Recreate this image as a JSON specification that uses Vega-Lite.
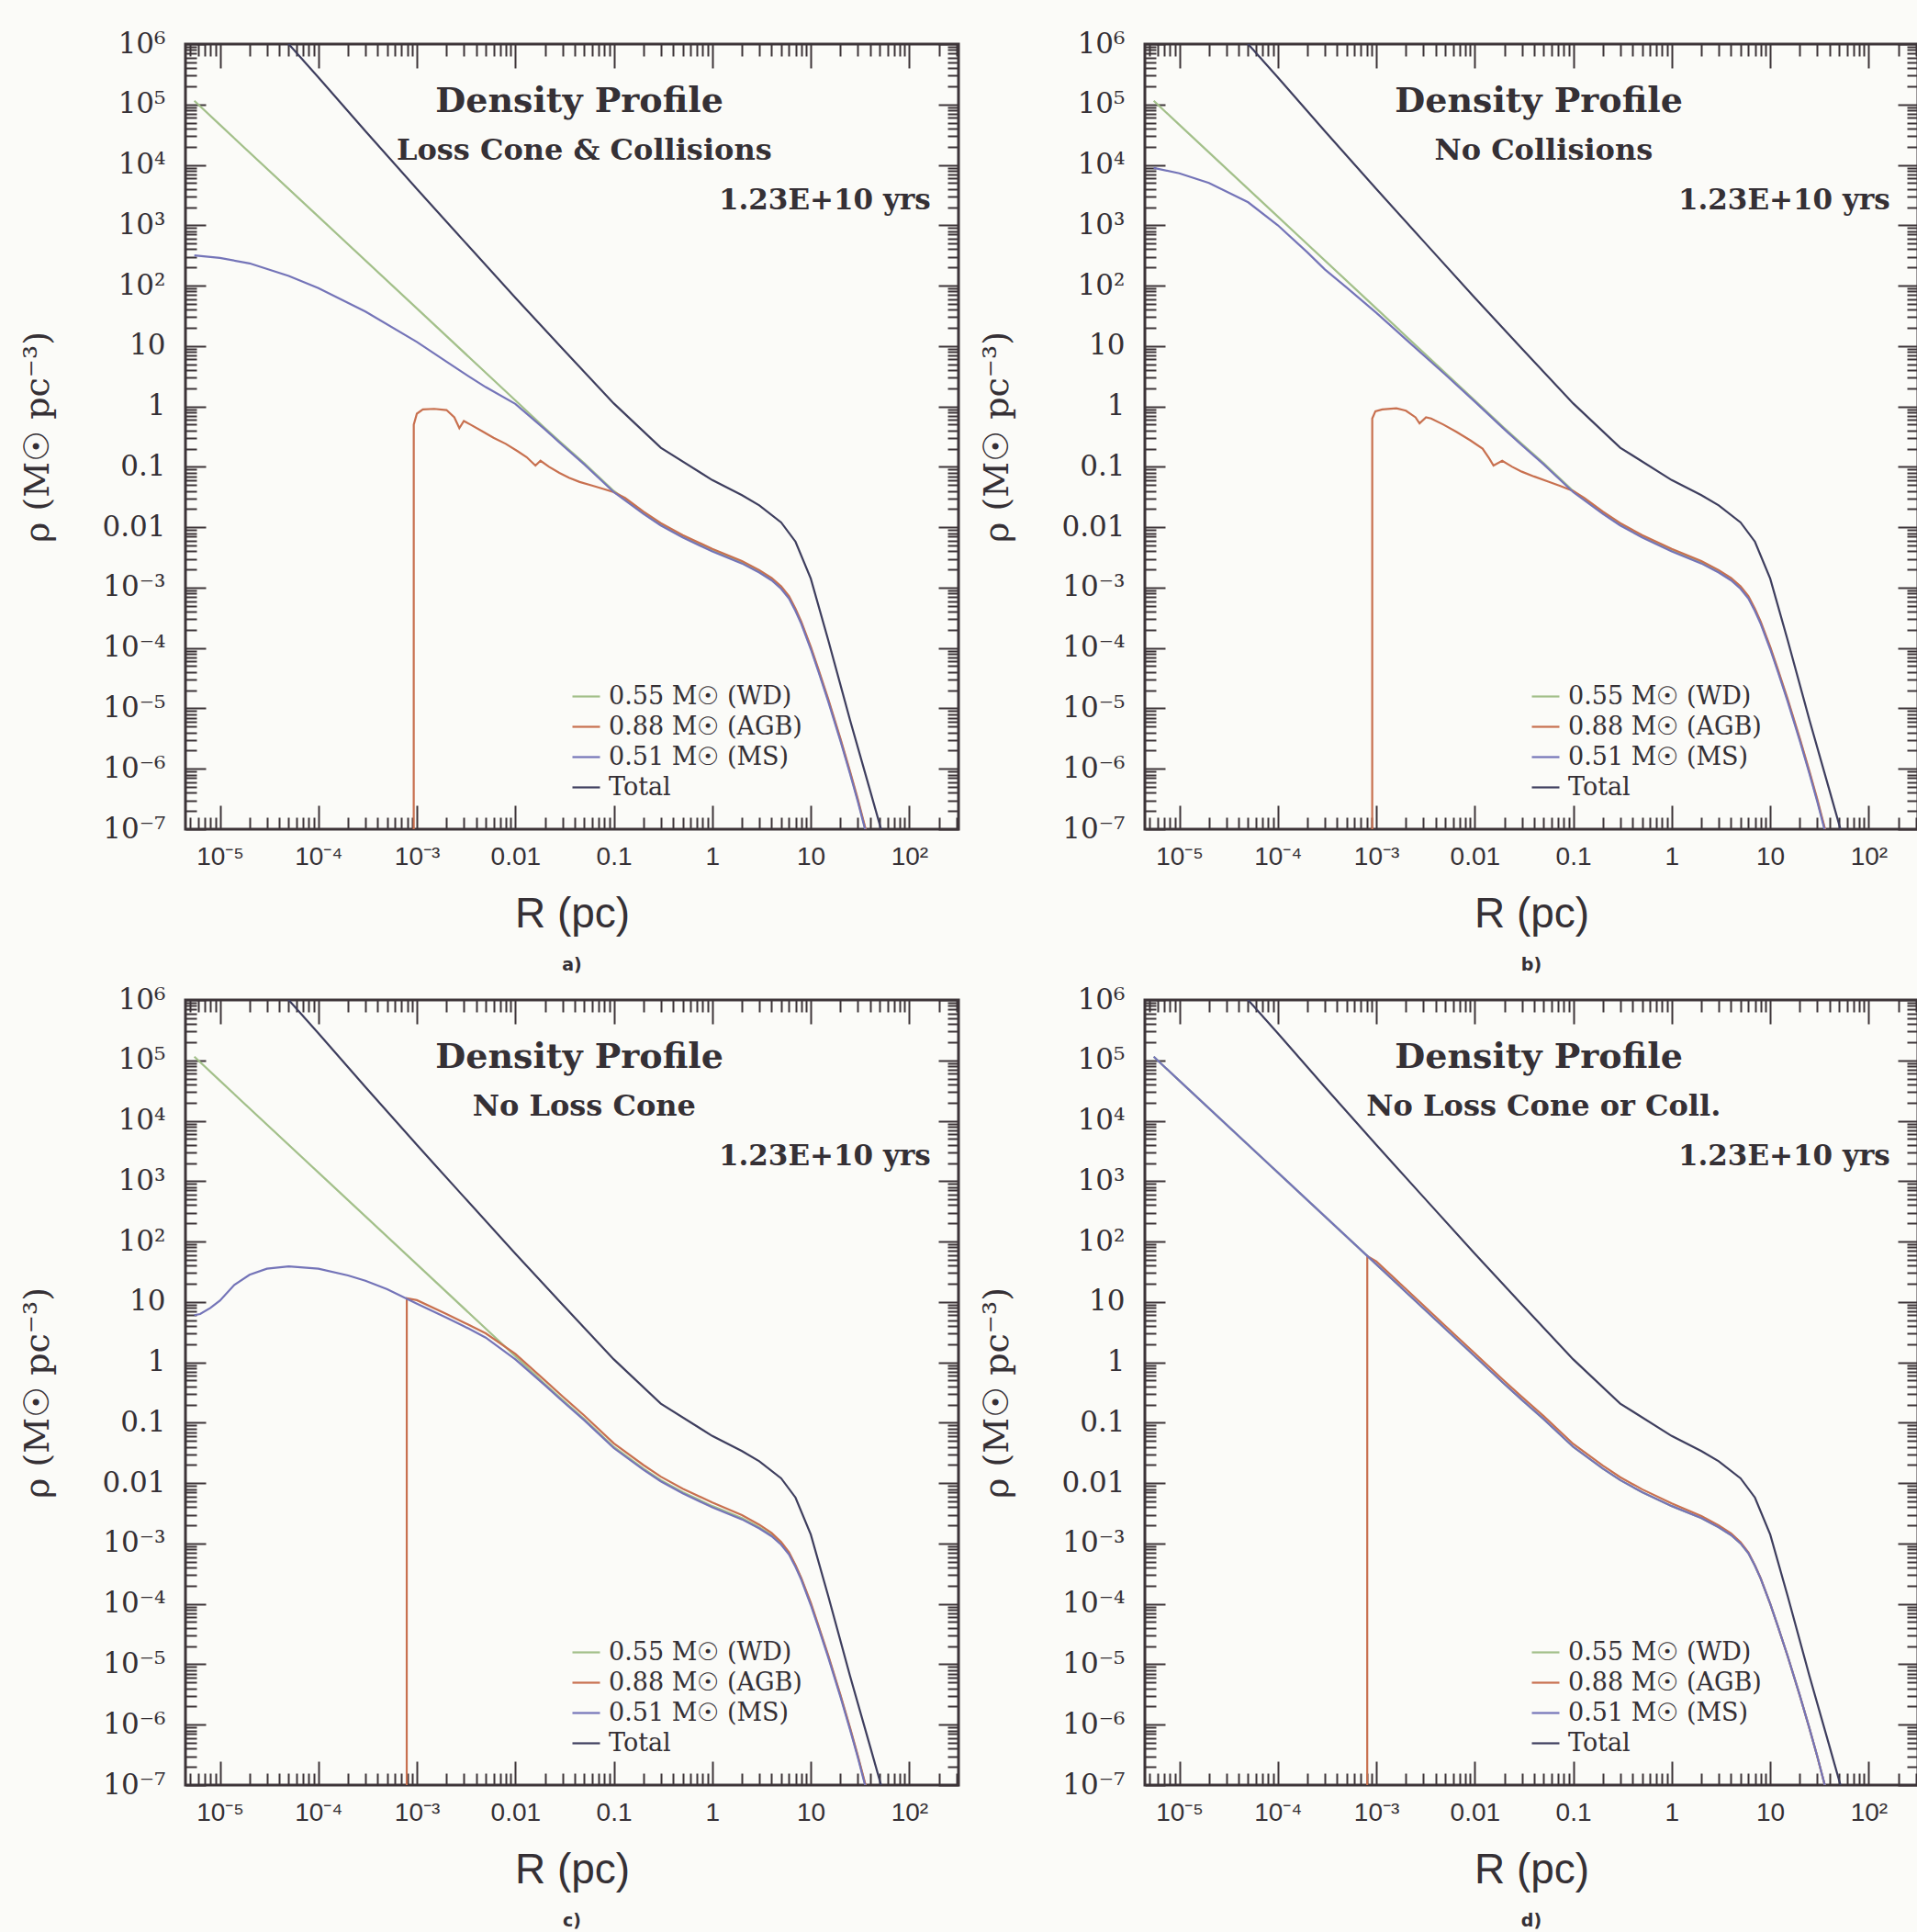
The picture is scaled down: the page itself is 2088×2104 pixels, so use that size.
{
"$schema":"https://vega.github.io/schema/vega-lite/v6.json",
"background":"#fbfbf8",
"padding":{"left":21,"top":30,"right":0,"bottom":0},
"datasets":{
"common":[
{"s":"WD","R":5.5e-6,"rho":1.15e5},{"s":"WD","R":1e-5,"rho":4.61e4},{"s":"WD","R":1e-4,"rho":1390},{"s":"WD","R":1e-3,"rho":41.9},{"s":"WD","R":1e-2,"rho":1.26},{"s":"WD","R":2e-2,"rho":0.437},{"s":"WD","R":3e-2,"rho":0.24},{"s":"WD","R":5e-2,"rho":0.115},{"s":"WD","R":0.1,"rho":0.0398},{"s":"WD","R":0.2,"rho":0.0174},{"s":"WD","R":0.3,"rho":0.0112},{"s":"WD","R":0.5,"rho":7.08e-3},{"s":"WD","R":1,"rho":4.17e-3},{"s":"WD","R":2,"rho":2.63e-3},{"s":"WD","R":3,"rho":1.86e-3},{"s":"WD","R":4,"rho":1.38e-3},{"s":"WD","R":5,"rho":1.0e-3},{"s":"WD","R":6,"rho":6.92e-4},{"s":"WD","R":7,"rho":4.27e-4},{"s":"WD","R":8,"rho":2.63e-4},{"s":"WD","R":10,"rho":1.0e-4},{"s":"WD","R":12,"rho":4.17e-5},{"s":"WD","R":15,"rho":1.38e-5},{"s":"WD","R":20,"rho":3.02e-6},{"s":"WD","R":25,"rho":8.71e-7},{"s":"WD","R":30,"rho":3.02e-7},{"s":"WD","R":40,"rho":5.01e-8},{"s":"WD","R":50,"rho":1.26e-8},
{"s":"Total","R":2e-5,"rho":5.4e6},{"s":"Total","R":3e-5,"rho":2.57e6},{"s":"Total","R":5e-5,"rho":1.0e6},{"s":"Total","R":1e-4,"rho":2.82e5},{"s":"Total","R":3e-4,"rho":3.63e4},{"s":"Total","R":1e-3,"rho":3980},{"s":"Total","R":3e-3,"rho":550},{"s":"Total","R":1e-2,"rho":63.1},{"s":"Total","R":3e-2,"rho":9.12},{"s":"Total","R":0.1,"rho":1.12},{"s":"Total","R":0.3,"rho":0.207},{"s":"Total","R":1,"rho":0.0603},{"s":"Total","R":2,"rho":0.0339},{"s":"Total","R":3,"rho":0.023},{"s":"Total","R":5,"rho":0.012},{"s":"Total","R":7,"rho":5.75e-3},{"s":"Total","R":10,"rho":1.41e-3},{"s":"Total","R":15,"rho":1.37e-4},{"s":"Total","R":25,"rho":6.46e-6},{"s":"Total","R":40,"rho":4.37e-7},{"s":"Total","R":70,"rho":1.74e-8}
],
"a":[
{"s":"AGB","R":9.29e-4,"rho":1e-8},{"s":"AGB","R":9.3e-4,"rho":0.5},{"s":"AGB","R":1.0e-3,"rho":0.759},{"s":"AGB","R":1.15e-3,"rho":0.891},{"s":"AGB","R":1.5e-3,"rho":0.912},{"s":"AGB","R":2.0e-3,"rho":0.871},{"s":"AGB","R":2.4e-3,"rho":0.661},{"s":"AGB","R":2.7e-3,"rho":0.437},{"s":"AGB","R":3.0e-3,"rho":0.575},{"s":"AGB","R":3.5e-3,"rho":0.501},{"s":"AGB","R":4.5e-3,"rho":0.398},{"s":"AGB","R":6e-3,"rho":0.302},{"s":"AGB","R":8e-3,"rho":0.24},{"s":"AGB","R":1.05e-2,"rho":0.182},{"s":"AGB","R":1.3e-2,"rho":0.145},{"s":"AGB","R":1.6e-2,"rho":0.105},{"s":"AGB","R":1.8e-2,"rho":0.126},{"s":"AGB","R":2.2e-2,"rho":0.1},{"s":"AGB","R":2.8e-2,"rho":0.0794},{"s":"AGB","R":3.5e-2,"rho":0.0661},{"s":"AGB","R":4.5e-2,"rho":0.0562},{"s":"AGB","R":6e-2,"rho":0.049},{"s":"AGB","R":8e-2,"rho":0.0427},{"s":"AGB","R":0.1,"rho":0.038},{"s":"AGB","R":0.13,"rho":0.0305},{"s":"AGB","R":0.2,"rho":0.0182},{"s":"AGB","R":0.3,"rho":0.0117},{"s":"AGB","R":0.5,"rho":7.41e-3},{"s":"AGB","R":1,"rho":4.37e-3},{"s":"AGB","R":2,"rho":2.75e-3},{"s":"AGB","R":3,"rho":1.95e-3},{"s":"AGB","R":4,"rho":1.45e-3},{"s":"AGB","R":5,"rho":1.05e-3},{"s":"AGB","R":6,"rho":7.24e-4},{"s":"AGB","R":7,"rho":4.47e-4},{"s":"AGB","R":8,"rho":2.75e-4},{"s":"AGB","R":10,"rho":1.05e-4},{"s":"AGB","R":12,"rho":4.37e-5},{"s":"AGB","R":15,"rho":1.45e-5},{"s":"AGB","R":20,"rho":3.16e-6},{"s":"AGB","R":25,"rho":9.12e-7},{"s":"AGB","R":30,"rho":3.16e-7},{"s":"AGB","R":40,"rho":5.25e-8},{"s":"AGB","R":50,"rho":1.32e-8},
{"s":"MS","R":5.5e-6,"rho":316},{"s":"MS","R":1e-5,"rho":288},{"s":"MS","R":2e-5,"rho":234},{"s":"MS","R":5e-5,"rho":145},{"s":"MS","R":1e-4,"rho":91.2},{"s":"MS","R":3e-4,"rho":37.2},{"s":"MS","R":1e-3,"rho":11.7},{"s":"MS","R":2e-3,"rho":5.5},{"s":"MS","R":3e-3,"rho":3.55},{"s":"MS","R":5e-3,"rho":2.09},{"s":"MS","R":1e-2,"rho":1.1},{"s":"MS","R":2e-2,"rho":0.417},{"s":"MS","R":3e-2,"rho":0.229},{"s":"MS","R":5e-2,"rho":0.11},{"s":"MS","R":0.1,"rho":0.038},{"s":"MS","R":0.2,"rho":0.0166},{"s":"MS","R":0.3,"rho":0.0107},{"s":"MS","R":0.5,"rho":6.76e-3},{"s":"MS","R":1,"rho":3.98e-3},{"s":"MS","R":2,"rho":2.51e-3},{"s":"MS","R":3,"rho":1.78e-3},{"s":"MS","R":4,"rho":1.32e-3},{"s":"MS","R":5,"rho":9.55e-4},{"s":"MS","R":6,"rho":6.61e-4},{"s":"MS","R":7,"rho":4.07e-4},{"s":"MS","R":8,"rho":2.51e-4},{"s":"MS","R":10,"rho":9.55e-5},{"s":"MS","R":12,"rho":3.98e-5},{"s":"MS","R":15,"rho":1.32e-5},{"s":"MS","R":20,"rho":2.88e-6},{"s":"MS","R":25,"rho":8.32e-7},{"s":"MS","R":30,"rho":2.88e-7},{"s":"MS","R":40,"rho":4.79e-8},{"s":"MS","R":50,"rho":1.2e-8}
],
"b":[
{"s":"AGB","R":9.09e-4,"rho":1e-8},{"s":"AGB","R":9.1e-4,"rho":0.631},{"s":"AGB","R":9.8e-4,"rho":0.832},{"s":"AGB","R":1.15e-3,"rho":0.891},{"s":"AGB","R":1.6e-3,"rho":0.933},{"s":"AGB","R":2.0e-3,"rho":0.851},{"s":"AGB","R":2.5e-3,"rho":0.661},{"s":"AGB","R":2.75e-3,"rho":0.525},{"s":"AGB","R":3.2e-3,"rho":0.661},{"s":"AGB","R":3.6e-3,"rho":0.631},{"s":"AGB","R":4.8e-3,"rho":0.501},{"s":"AGB","R":6.5e-3,"rho":0.38},{"s":"AGB","R":9e-3,"rho":0.275},{"s":"AGB","R":1.2e-2,"rho":0.2},{"s":"AGB","R":1.4e-2,"rho":0.138},{"s":"AGB","R":1.55e-2,"rho":0.105},{"s":"AGB","R":1.9e-2,"rho":0.126},{"s":"AGB","R":2.4e-2,"rho":0.1},{"s":"AGB","R":3e-2,"rho":0.0832},{"s":"AGB","R":4e-2,"rho":0.0692},{"s":"AGB","R":5.5e-2,"rho":0.0575},{"s":"AGB","R":7.5e-2,"rho":0.0479},{"s":"AGB","R":0.1,"rho":0.0398},{"s":"AGB","R":0.13,"rho":0.0305},{"s":"AGB","R":0.2,"rho":0.0182},{"s":"AGB","R":0.3,"rho":0.0117},{"s":"AGB","R":0.5,"rho":7.41e-3},{"s":"AGB","R":1,"rho":4.37e-3},{"s":"AGB","R":2,"rho":2.75e-3},{"s":"AGB","R":3,"rho":1.95e-3},{"s":"AGB","R":4,"rho":1.45e-3},{"s":"AGB","R":5,"rho":1.05e-3},{"s":"AGB","R":6,"rho":7.24e-4},{"s":"AGB","R":7,"rho":4.47e-4},{"s":"AGB","R":8,"rho":2.75e-4},{"s":"AGB","R":10,"rho":1.05e-4},{"s":"AGB","R":12,"rho":4.37e-5},{"s":"AGB","R":15,"rho":1.45e-5},{"s":"AGB","R":20,"rho":3.16e-6},{"s":"AGB","R":25,"rho":9.12e-7},{"s":"AGB","R":30,"rho":3.16e-7},{"s":"AGB","R":40,"rho":5.25e-8},{"s":"AGB","R":50,"rho":1.32e-8},
{"s":"MS","R":5.5e-6,"rho":8910},{"s":"MS","R":1e-5,"rho":7240},{"s":"MS","R":2e-5,"rho":5010},{"s":"MS","R":5e-5,"rho":2400},{"s":"MS","R":1e-4,"rho":1000},{"s":"MS","R":2e-4,"rho":355},{"s":"MS","R":3e-4,"rho":186},{"s":"MS","R":5e-4,"rho":93.3},{"s":"MS","R":1e-3,"rho":35.5},{"s":"MS","R":2e-3,"rho":12.9},{"s":"MS","R":5e-3,"rho":3.39},{"s":"MS","R":1e-2,"rho":1.2},{"s":"MS","R":2e-2,"rho":0.417},{"s":"MS","R":3e-2,"rho":0.229},{"s":"MS","R":5e-2,"rho":0.11},{"s":"MS","R":0.1,"rho":0.038},{"s":"MS","R":0.2,"rho":0.0166},{"s":"MS","R":0.3,"rho":0.0107},{"s":"MS","R":0.5,"rho":6.76e-3},{"s":"MS","R":1,"rho":3.98e-3},{"s":"MS","R":2,"rho":2.51e-3},{"s":"MS","R":3,"rho":1.78e-3},{"s":"MS","R":4,"rho":1.32e-3},{"s":"MS","R":5,"rho":9.55e-4},{"s":"MS","R":6,"rho":6.61e-4},{"s":"MS","R":7,"rho":4.07e-4},{"s":"MS","R":8,"rho":2.51e-4},{"s":"MS","R":10,"rho":9.55e-5},{"s":"MS","R":12,"rho":3.98e-5},{"s":"MS","R":15,"rho":1.32e-5},{"s":"MS","R":20,"rho":2.88e-6},{"s":"MS","R":25,"rho":8.32e-7},{"s":"MS","R":30,"rho":2.88e-7},{"s":"MS","R":40,"rho":4.79e-8},{"s":"MS","R":50,"rho":1.2e-8}
],
"c":[
{"s":"AGB","R":7.89e-4,"rho":1e-8},{"s":"AGB","R":7.9e-4,"rho":11.5},{"s":"AGB","R":1e-3,"rho":10.7},{"s":"AGB","R":2e-3,"rho":6.31},{"s":"AGB","R":3e-3,"rho":4.57},{"s":"AGB","R":5e-3,"rho":3.02},{"s":"AGB","R":1e-2,"rho":1.38},{"s":"AGB","R":2e-2,"rho":0.5},{"s":"AGB","R":3e-2,"rho":0.275},{"s":"AGB","R":5e-2,"rho":0.132},{"s":"AGB","R":0.1,"rho":0.0456},{"s":"AGB","R":0.2,"rho":0.0199},{"s":"AGB","R":0.3,"rho":0.0128},{"s":"AGB","R":0.5,"rho":8.1e-3},{"s":"AGB","R":1,"rho":4.78e-3},{"s":"AGB","R":2,"rho":2.95e-3},{"s":"AGB","R":3,"rho":2.05e-3},{"s":"AGB","R":4,"rho":1.5e-3},{"s":"AGB","R":5,"rho":1.06e-3},{"s":"AGB","R":6,"rho":7.2e-4},{"s":"AGB","R":7,"rho":4.4e-4},{"s":"AGB","R":8,"rho":2.7e-4},{"s":"AGB","R":10,"rho":1.05e-4},{"s":"AGB","R":12,"rho":4.3e-5},{"s":"AGB","R":15,"rho":1.42e-5},{"s":"AGB","R":20,"rho":3.1e-6},{"s":"AGB","R":25,"rho":9e-7},{"s":"AGB","R":30,"rho":3.1e-7},{"s":"AGB","R":40,"rho":5.2e-8},{"s":"AGB","R":50,"rho":1.3e-8},
{"s":"MS","R":5.5e-6,"rho":6.03},{"s":"MS","R":6.3e-6,"rho":6.31},{"s":"MS","R":8e-6,"rho":7.94},{"s":"MS","R":1e-5,"rho":10.5},{"s":"MS","R":1.4e-5,"rho":19.1},{"s":"MS","R":2e-5,"rho":28.2},{"s":"MS","R":3e-5,"rho":35.5},{"s":"MS","R":5e-5,"rho":38.9},{"s":"MS","R":1e-4,"rho":35.5},{"s":"MS","R":2e-4,"rho":27.5},{"s":"MS","R":3e-4,"rho":22.4},{"s":"MS","R":5e-4,"rho":16.2},{"s":"MS","R":1e-3,"rho":9.33},{"s":"MS","R":2e-3,"rho":5.5},{"s":"MS","R":3e-3,"rho":3.98},{"s":"MS","R":5e-3,"rho":2.57},{"s":"MS","R":1e-2,"rho":1.12},{"s":"MS","R":2e-2,"rho":0.417},{"s":"MS","R":3e-2,"rho":0.229},{"s":"MS","R":5e-2,"rho":0.11},{"s":"MS","R":0.1,"rho":0.038},{"s":"MS","R":0.2,"rho":0.0166},{"s":"MS","R":0.3,"rho":0.0107},{"s":"MS","R":0.5,"rho":6.76e-3},{"s":"MS","R":1,"rho":3.98e-3},{"s":"MS","R":2,"rho":2.51e-3},{"s":"MS","R":3,"rho":1.78e-3},{"s":"MS","R":4,"rho":1.32e-3},{"s":"MS","R":5,"rho":9.55e-4},{"s":"MS","R":6,"rho":6.61e-4},{"s":"MS","R":7,"rho":4.07e-4},{"s":"MS","R":8,"rho":2.51e-4},{"s":"MS","R":10,"rho":9.55e-5},{"s":"MS","R":12,"rho":3.98e-5},{"s":"MS","R":15,"rho":1.32e-5},{"s":"MS","R":20,"rho":2.88e-6},{"s":"MS","R":25,"rho":8.32e-7},{"s":"MS","R":30,"rho":2.88e-7},{"s":"MS","R":40,"rho":4.79e-8},{"s":"MS","R":50,"rho":1.2e-8}
],
"d":[
{"s":"AGB","R":8.09e-4,"rho":1e-8},{"s":"AGB","R":8.1e-4,"rho":57.3},{"s":"AGB","R":1e-3,"rho":47},{"s":"AGB","R":2e-3,"rho":16.4},{"s":"AGB","R":5e-3,"rho":4.04},{"s":"AGB","R":1e-2,"rho":1.41},{"s":"AGB","R":2e-2,"rho":0.49},{"s":"AGB","R":3e-2,"rho":0.269},{"s":"AGB","R":5e-2,"rho":0.129},{"s":"AGB","R":0.1,"rho":0.0446},{"s":"AGB","R":0.2,"rho":0.0195},{"s":"AGB","R":0.3,"rho":0.0125},{"s":"AGB","R":0.5,"rho":7.9e-3},{"s":"AGB","R":1,"rho":4.6e-3},{"s":"AGB","R":2,"rho":2.85e-3},{"s":"AGB","R":3,"rho":2.0e-3},{"s":"AGB","R":4,"rho":1.47e-3},{"s":"AGB","R":5,"rho":1.05e-3},{"s":"AGB","R":6,"rho":7.1e-4},{"s":"AGB","R":7,"rho":4.35e-4},{"s":"AGB","R":8,"rho":2.66e-4},{"s":"AGB","R":10,"rho":1.0e-4},{"s":"AGB","R":12,"rho":4.17e-5},{"s":"AGB","R":15,"rho":1.38e-5},{"s":"AGB","R":20,"rho":3.02e-6},{"s":"AGB","R":25,"rho":8.71e-7},{"s":"AGB","R":30,"rho":3.02e-7},{"s":"AGB","R":40,"rho":5.01e-8},{"s":"AGB","R":50,"rho":1.26e-8},
{"s":"MS","R":5.5e-6,"rho":1.15e5},{"s":"MS","R":1e-5,"rho":4.61e4},{"s":"MS","R":1e-4,"rho":1390},{"s":"MS","R":1e-3,"rho":41.9},{"s":"MS","R":1e-2,"rho":1.26},{"s":"MS","R":2e-2,"rho":0.437},{"s":"MS","R":3e-2,"rho":0.24},{"s":"MS","R":5e-2,"rho":0.115},{"s":"MS","R":0.1,"rho":0.0398},{"s":"MS","R":0.2,"rho":0.0174},{"s":"MS","R":0.3,"rho":0.0112},{"s":"MS","R":0.5,"rho":7.08e-3},{"s":"MS","R":1,"rho":4.17e-3},{"s":"MS","R":2,"rho":2.63e-3},{"s":"MS","R":3,"rho":1.86e-3},{"s":"MS","R":4,"rho":1.38e-3},{"s":"MS","R":5,"rho":1.0e-3},{"s":"MS","R":6,"rho":6.92e-4},{"s":"MS","R":7,"rho":4.27e-4},{"s":"MS","R":8,"rho":2.63e-4},{"s":"MS","R":10,"rho":1.0e-4},{"s":"MS","R":12,"rho":4.17e-5},{"s":"MS","R":15,"rho":1.38e-5},{"s":"MS","R":20,"rho":3.02e-6},{"s":"MS","R":25,"rho":8.71e-7},{"s":"MS","R":30,"rho":3.02e-7},{"s":"MS","R":40,"rho":5.01e-8},{"s":"MS","R":50,"rho":1.26e-8}
]
},
"columns":2,
"spacing":{"row":8,"column":19},
"resolve":{"scale":{"x":"independent","y":"independent","color":"independent"},"legend":{"color":"independent"}},
"concat":[
{"width":842,"height":855,"title":{"text":"a)"},
"layer":[
{"data":{"name":"common"},"mark":{"type":"line","clip":true,"strokeWidth":2.2},"encoding":{"x":{"field":"R","type":"quantitative","scale":{"type":"log","domain":[4.47e-6,316],"nice":false},"axis":{"orient":"bottom","values":[1e-5,1e-4,0.001,0.01,0.1,1,10,100],"ticks":false,"labelExpr":"['10⁻⁵','10⁻⁴','10⁻³','0.01','0.1','1','10','10²'][round(log(datum.value)/LN10)+5]","title":"R (pc)","labelFont":"Liberation Sans","labelFontSize":28,"labelPadding":16,"titleFont":"Liberation Sans","titleFontSize":46,"titlePadding":26}},"y":{"field":"rho","type":"quantitative","scale":{"type":"log","domain":[1e-7,1e6],"nice":false},"axis":{"orient":"left","values":[1e-7,1e-6,1e-5,1e-4,0.001,0.01,0.1,1,10,100,1000,10000,100000,1000000],"ticks":false,"labelExpr":"['10⁻⁷','10⁻⁶','10⁻⁵','10⁻⁴','10⁻³','0.01','0.1','1','10','10²','10³','10⁴','10⁵','10⁶'][round(log(datum.value)/LN10)+7]","title":"ρ (M☉ pc⁻³)","labelPadding":22,"titlePadding":50}},"color":{"field":"s","type":"nominal","scale":{"domain":["WD","AGB","MS","Total"],"range":["#a3c08a","#c8704f","#7474b8","#3e3e5e"]},"legend":{"title":null,"orient":"none","legendX":420,"legendY":694,"labelExpr":"datum.label == 'WD' ? '0.55 M☉ (WD)' : datum.label == 'AGB' ? '0.88 M☉ (AGB)' : datum.label == 'MS' ? '0.51 M☉ (MS)' : 'Total'"}}}},
{"data":{"name":"a"},"mark":{"type":"line","clip":true,"strokeWidth":2.2},"encoding":{"x":{"field":"R","type":"quantitative","scale":{"type":"log","domain":[4.47e-6,316],"nice":false},"axis":null},"y":{"field":"rho","type":"quantitative","scale":{"type":"log","domain":[1e-7,1e6],"nice":false},"axis":null},"color":{"field":"s","type":"nominal","scale":{"domain":["WD","AGB","MS","Total"],"range":["#a3c08a","#c8704f","#7474b8","#3e3e5e"]},"legend":{"title":null,"orient":"none","legendX":420,"legendY":694,"labelExpr":"datum.label == 'WD' ? '0.55 M☉ (WD)' : datum.label == 'AGB' ? '0.88 M☉ (AGB)' : datum.label == 'MS' ? '0.51 M☉ (MS)' : 'Total'"}}}},
{"data":{"name":"common"},"mark":{"type":"point","opacity":0,"clip":true},"encoding":{"x":{"field":"R","type":"quantitative","scale":{"type":"log","domain":[4.47e-6,316],"nice":false},"axis":{"orient":"bottom","values":[1e-5,1e-4,0.001,0.01,0.1,1,10,100],"labels":false,"tickSize":-26,"title":null}},"y":{"field":"rho","type":"quantitative","scale":{"type":"log","domain":[1e-7,1e6],"nice":false},"axis":{"orient":"left","values":[1e-7,1e-6,1e-5,1e-4,0.001,0.01,0.1,1,10,100,1000,10000,100000,1000000],"labels":false,"tickSize":-22,"title":null}}}},
{"data":{"name":"common"},"mark":{"type":"point","opacity":0,"clip":true},"encoding":{"x":{"field":"R","type":"quantitative","scale":{"type":"log","domain":[4.47e-6,316],"nice":false},"axis":{"orient":"bottom","values":[5e-6,6e-6,7e-6,8e-6,9e-6,2e-5,3e-5,4e-5,5e-5,6e-5,7e-5,8e-5,9e-5,2e-4,3e-4,4e-4,5e-4,6e-4,7e-4,8e-4,9e-4,0.002,0.003,0.004,0.005,0.006,0.007,0.008,0.009,0.02,0.03,0.04,0.05,0.06,0.07,0.08,0.09,0.2,0.3,0.4,0.5,0.6,0.7,0.8,0.9,2,3,4,5,6,7,8,9,20,30,40,50,60,70,80,90,200,300],"labels":false,"tickSize":-13,"title":null}},"y":{"field":"rho","type":"quantitative","scale":{"type":"log","domain":[1e-7,1e6],"nice":false},"axis":{"orient":"left","values":[2e-7,3e-7,4e-7,5e-7,6e-7,7e-7,8e-7,9e-7,2e-6,3e-6,4e-6,5e-6,6e-6,7e-6,8e-6,9e-6,2e-5,3e-5,4e-5,5e-5,6e-5,7e-5,8e-5,9e-5,2e-4,3e-4,4e-4,5e-4,6e-4,7e-4,8e-4,9e-4,0.002,0.003,0.004,0.005,0.006,0.007,0.008,0.009,0.02,0.03,0.04,0.05,0.06,0.07,0.08,0.09,0.2,0.3,0.4,0.5,0.6,0.7,0.8,0.9,2,3,4,5,6,7,8,9,20,30,40,50,60,70,80,90,200,300,400,500,600,700,800,900,2000,3000,4000,5000,6000,7000,8000,9000,20000,30000,40000,50000,60000,70000,80000,90000,200000,300000,400000,500000,600000,700000,800000,900000],"labels":false,"tickSize":-12,"title":null}}}},
{"data":{"name":"common"},"mark":{"type":"point","opacity":0,"clip":true},"encoding":{"x":{"field":"R","type":"quantitative","scale":{"type":"log","domain":[4.47e-6,316],"nice":false},"axis":{"orient":"top","values":[1e-5,1e-4,0.001,0.01,0.1,1,10,100],"labels":false,"tickSize":-26,"title":null}},"y":{"field":"rho","type":"quantitative","scale":{"type":"log","domain":[1e-7,1e6],"nice":false},"axis":{"orient":"right","values":[1e-7,1e-6,1e-5,1e-4,0.001,0.01,0.1,1,10,100,1000,10000,100000,1000000],"labels":false,"tickSize":-22,"title":null}}}},
{"data":{"name":"common"},"mark":{"type":"point","opacity":0,"clip":true},"encoding":{"x":{"field":"R","type":"quantitative","scale":{"type":"log","domain":[4.47e-6,316],"nice":false},"axis":{"orient":"top","values":[5e-6,6e-6,7e-6,8e-6,9e-6,2e-5,3e-5,4e-5,5e-5,6e-5,7e-5,8e-5,9e-5,2e-4,3e-4,4e-4,5e-4,6e-4,7e-4,8e-4,9e-4,0.002,0.003,0.004,0.005,0.006,0.007,0.008,0.009,0.02,0.03,0.04,0.05,0.06,0.07,0.08,0.09,0.2,0.3,0.4,0.5,0.6,0.7,0.8,0.9,2,3,4,5,6,7,8,9,20,30,40,50,60,70,80,90,200,300],"labels":false,"tickSize":-13,"title":null}},"y":{"field":"rho","type":"quantitative","scale":{"type":"log","domain":[1e-7,1e6],"nice":false},"axis":{"orient":"right","values":[2e-7,3e-7,4e-7,5e-7,6e-7,7e-7,8e-7,9e-7,2e-6,3e-6,4e-6,5e-6,6e-6,7e-6,8e-6,9e-6,2e-5,3e-5,4e-5,5e-5,6e-5,7e-5,8e-5,9e-5,2e-4,3e-4,4e-4,5e-4,6e-4,7e-4,8e-4,9e-4,0.002,0.003,0.004,0.005,0.006,0.007,0.008,0.009,0.02,0.03,0.04,0.05,0.06,0.07,0.08,0.09,0.2,0.3,0.4,0.5,0.6,0.7,0.8,0.9,2,3,4,5,6,7,8,9,20,30,40,50,60,70,80,90,200,300,400,500,600,700,800,900,2000,3000,4000,5000,6000,7000,8000,9000,20000,30000,40000,50000,60000,70000,80000,90000,200000,300000,400000,500000,600000,700000,800000,900000],"labels":false,"tickSize":-12,"title":null}}}},
{"data":{"values":[{"t":"Density Profile","R":0.0447,"rho":110000}]},"mark":{"type":"text","fontSize":38,"fontWeight":"bold","align":"center","baseline":"middle"},"encoding":{"x":{"field":"R","type":"quantitative","scale":{"type":"log","domain":[4.47e-6,316],"nice":false},"axis":null},"y":{"field":"rho","type":"quantitative","scale":{"type":"log","domain":[1e-7,1e6],"nice":false},"axis":null},"text":{"field":"t"}}},
{"data":{"values":[{"t":"Loss Cone & Collisions","R":0.05,"rho":17400}]},"mark":{"type":"text","fontSize":32,"fontWeight":"bold","align":"center","baseline":"middle"},"encoding":{"x":{"field":"R","type":"quantitative","scale":{"type":"log","domain":[4.47e-6,316],"nice":false},"axis":null},"y":{"field":"rho","type":"quantitative","scale":{"type":"log","domain":[1e-7,1e6],"nice":false},"axis":null},"text":{"field":"t"}}},
{"data":{"values":[{"t":"1.23E+10 yrs","R":165,"rho":2540}]},"mark":{"type":"text","fontSize":31,"fontWeight":"bold","align":"right","baseline":"middle"},"encoding":{"x":{"field":"R","type":"quantitative","scale":{"type":"log","domain":[4.47e-6,316],"nice":false},"axis":null},"y":{"field":"rho","type":"quantitative","scale":{"type":"log","domain":[1e-7,1e6],"nice":false},"axis":null},"text":{"field":"t"}}}
],
"resolve":{"axis":{"x":"independent","y":"independent"}}},
{"width":842,"height":855,"title":{"text":"b)"},
"layer":[
{"data":{"name":"common"},"mark":{"type":"line","clip":true,"strokeWidth":2.2},"encoding":{"x":{"field":"R","type":"quantitative","scale":{"type":"log","domain":[4.47e-6,316],"nice":false},"axis":{"orient":"bottom","values":[1e-5,1e-4,0.001,0.01,0.1,1,10,100],"ticks":false,"labelExpr":"['10⁻⁵','10⁻⁴','10⁻³','0.01','0.1','1','10','10²'][round(log(datum.value)/LN10)+5]","title":"R (pc)","labelFont":"Liberation Sans","labelFontSize":28,"labelPadding":16,"titleFont":"Liberation Sans","titleFontSize":46,"titlePadding":26}},"y":{"field":"rho","type":"quantitative","scale":{"type":"log","domain":[1e-7,1e6],"nice":false},"axis":{"orient":"left","values":[1e-7,1e-6,1e-5,1e-4,0.001,0.01,0.1,1,10,100,1000,10000,100000,1000000],"ticks":false,"labelExpr":"['10⁻⁷','10⁻⁶','10⁻⁵','10⁻⁴','10⁻³','0.01','0.1','1','10','10²','10³','10⁴','10⁵','10⁶'][round(log(datum.value)/LN10)+7]","title":"ρ (M☉ pc⁻³)","labelPadding":22,"titlePadding":50}},"color":{"field":"s","type":"nominal","scale":{"domain":["WD","AGB","MS","Total"],"range":["#a3c08a","#c8704f","#7474b8","#3e3e5e"]},"legend":{"title":null,"orient":"none","legendX":420,"legendY":694,"labelExpr":"datum.label == 'WD' ? '0.55 M☉ (WD)' : datum.label == 'AGB' ? '0.88 M☉ (AGB)' : datum.label == 'MS' ? '0.51 M☉ (MS)' : 'Total'"}}}},
{"data":{"name":"b"},"mark":{"type":"line","clip":true,"strokeWidth":2.2},"encoding":{"x":{"field":"R","type":"quantitative","scale":{"type":"log","domain":[4.47e-6,316],"nice":false},"axis":null},"y":{"field":"rho","type":"quantitative","scale":{"type":"log","domain":[1e-7,1e6],"nice":false},"axis":null},"color":{"field":"s","type":"nominal","scale":{"domain":["WD","AGB","MS","Total"],"range":["#a3c08a","#c8704f","#7474b8","#3e3e5e"]},"legend":{"title":null,"orient":"none","legendX":420,"legendY":694,"labelExpr":"datum.label == 'WD' ? '0.55 M☉ (WD)' : datum.label == 'AGB' ? '0.88 M☉ (AGB)' : datum.label == 'MS' ? '0.51 M☉ (MS)' : 'Total'"}}}},
{"data":{"name":"common"},"mark":{"type":"point","opacity":0,"clip":true},"encoding":{"x":{"field":"R","type":"quantitative","scale":{"type":"log","domain":[4.47e-6,316],"nice":false},"axis":{"orient":"bottom","values":[1e-5,1e-4,0.001,0.01,0.1,1,10,100],"labels":false,"tickSize":-26,"title":null}},"y":{"field":"rho","type":"quantitative","scale":{"type":"log","domain":[1e-7,1e6],"nice":false},"axis":{"orient":"left","values":[1e-7,1e-6,1e-5,1e-4,0.001,0.01,0.1,1,10,100,1000,10000,100000,1000000],"labels":false,"tickSize":-22,"title":null}}}},
{"data":{"name":"common"},"mark":{"type":"point","opacity":0,"clip":true},"encoding":{"x":{"field":"R","type":"quantitative","scale":{"type":"log","domain":[4.47e-6,316],"nice":false},"axis":{"orient":"bottom","values":[5e-6,6e-6,7e-6,8e-6,9e-6,2e-5,3e-5,4e-5,5e-5,6e-5,7e-5,8e-5,9e-5,2e-4,3e-4,4e-4,5e-4,6e-4,7e-4,8e-4,9e-4,0.002,0.003,0.004,0.005,0.006,0.007,0.008,0.009,0.02,0.03,0.04,0.05,0.06,0.07,0.08,0.09,0.2,0.3,0.4,0.5,0.6,0.7,0.8,0.9,2,3,4,5,6,7,8,9,20,30,40,50,60,70,80,90,200,300],"labels":false,"tickSize":-13,"title":null}},"y":{"field":"rho","type":"quantitative","scale":{"type":"log","domain":[1e-7,1e6],"nice":false},"axis":{"orient":"left","values":[2e-7,3e-7,4e-7,5e-7,6e-7,7e-7,8e-7,9e-7,2e-6,3e-6,4e-6,5e-6,6e-6,7e-6,8e-6,9e-6,2e-5,3e-5,4e-5,5e-5,6e-5,7e-5,8e-5,9e-5,2e-4,3e-4,4e-4,5e-4,6e-4,7e-4,8e-4,9e-4,0.002,0.003,0.004,0.005,0.006,0.007,0.008,0.009,0.02,0.03,0.04,0.05,0.06,0.07,0.08,0.09,0.2,0.3,0.4,0.5,0.6,0.7,0.8,0.9,2,3,4,5,6,7,8,9,20,30,40,50,60,70,80,90,200,300,400,500,600,700,800,900,2000,3000,4000,5000,6000,7000,8000,9000,20000,30000,40000,50000,60000,70000,80000,90000,200000,300000,400000,500000,600000,700000,800000,900000],"labels":false,"tickSize":-12,"title":null}}}},
{"data":{"name":"common"},"mark":{"type":"point","opacity":0,"clip":true},"encoding":{"x":{"field":"R","type":"quantitative","scale":{"type":"log","domain":[4.47e-6,316],"nice":false},"axis":{"orient":"top","values":[1e-5,1e-4,0.001,0.01,0.1,1,10,100],"labels":false,"tickSize":-26,"title":null}},"y":{"field":"rho","type":"quantitative","scale":{"type":"log","domain":[1e-7,1e6],"nice":false},"axis":{"orient":"right","values":[1e-7,1e-6,1e-5,1e-4,0.001,0.01,0.1,1,10,100,1000,10000,100000,1000000],"labels":false,"tickSize":-22,"title":null}}}},
{"data":{"name":"common"},"mark":{"type":"point","opacity":0,"clip":true},"encoding":{"x":{"field":"R","type":"quantitative","scale":{"type":"log","domain":[4.47e-6,316],"nice":false},"axis":{"orient":"top","values":[5e-6,6e-6,7e-6,8e-6,9e-6,2e-5,3e-5,4e-5,5e-5,6e-5,7e-5,8e-5,9e-5,2e-4,3e-4,4e-4,5e-4,6e-4,7e-4,8e-4,9e-4,0.002,0.003,0.004,0.005,0.006,0.007,0.008,0.009,0.02,0.03,0.04,0.05,0.06,0.07,0.08,0.09,0.2,0.3,0.4,0.5,0.6,0.7,0.8,0.9,2,3,4,5,6,7,8,9,20,30,40,50,60,70,80,90,200,300],"labels":false,"tickSize":-13,"title":null}},"y":{"field":"rho","type":"quantitative","scale":{"type":"log","domain":[1e-7,1e6],"nice":false},"axis":{"orient":"right","values":[2e-7,3e-7,4e-7,5e-7,6e-7,7e-7,8e-7,9e-7,2e-6,3e-6,4e-6,5e-6,6e-6,7e-6,8e-6,9e-6,2e-5,3e-5,4e-5,5e-5,6e-5,7e-5,8e-5,9e-5,2e-4,3e-4,4e-4,5e-4,6e-4,7e-4,8e-4,9e-4,0.002,0.003,0.004,0.005,0.006,0.007,0.008,0.009,0.02,0.03,0.04,0.05,0.06,0.07,0.08,0.09,0.2,0.3,0.4,0.5,0.6,0.7,0.8,0.9,2,3,4,5,6,7,8,9,20,30,40,50,60,70,80,90,200,300,400,500,600,700,800,900,2000,3000,4000,5000,6000,7000,8000,9000,20000,30000,40000,50000,60000,70000,80000,90000,200000,300000,400000,500000,600000,700000,800000,900000],"labels":false,"tickSize":-12,"title":null}}}},
{"data":{"values":[{"t":"Density Profile","R":0.0447,"rho":110000}]},"mark":{"type":"text","fontSize":38,"fontWeight":"bold","align":"center","baseline":"middle"},"encoding":{"x":{"field":"R","type":"quantitative","scale":{"type":"log","domain":[4.47e-6,316],"nice":false},"axis":null},"y":{"field":"rho","type":"quantitative","scale":{"type":"log","domain":[1e-7,1e6],"nice":false},"axis":null},"text":{"field":"t"}}},
{"data":{"values":[{"t":"No Collisions","R":0.05,"rho":17400}]},"mark":{"type":"text","fontSize":32,"fontWeight":"bold","align":"center","baseline":"middle"},"encoding":{"x":{"field":"R","type":"quantitative","scale":{"type":"log","domain":[4.47e-6,316],"nice":false},"axis":null},"y":{"field":"rho","type":"quantitative","scale":{"type":"log","domain":[1e-7,1e6],"nice":false},"axis":null},"text":{"field":"t"}}},
{"data":{"values":[{"t":"1.23E+10 yrs","R":165,"rho":2540}]},"mark":{"type":"text","fontSize":31,"fontWeight":"bold","align":"right","baseline":"middle"},"encoding":{"x":{"field":"R","type":"quantitative","scale":{"type":"log","domain":[4.47e-6,316],"nice":false},"axis":null},"y":{"field":"rho","type":"quantitative","scale":{"type":"log","domain":[1e-7,1e6],"nice":false},"axis":null},"text":{"field":"t"}}}
],
"resolve":{"axis":{"x":"independent","y":"independent"}}},
{"width":842,"height":855,"title":{"text":"c)"},
"layer":[
{"data":{"name":"common"},"mark":{"type":"line","clip":true,"strokeWidth":2.2},"encoding":{"x":{"field":"R","type":"quantitative","scale":{"type":"log","domain":[4.47e-6,316],"nice":false},"axis":{"orient":"bottom","values":[1e-5,1e-4,0.001,0.01,0.1,1,10,100],"ticks":false,"labelExpr":"['10⁻⁵','10⁻⁴','10⁻³','0.01','0.1','1','10','10²'][round(log(datum.value)/LN10)+5]","title":"R (pc)","labelFont":"Liberation Sans","labelFontSize":28,"labelPadding":16,"titleFont":"Liberation Sans","titleFontSize":46,"titlePadding":26}},"y":{"field":"rho","type":"quantitative","scale":{"type":"log","domain":[1e-7,1e6],"nice":false},"axis":{"orient":"left","values":[1e-7,1e-6,1e-5,1e-4,0.001,0.01,0.1,1,10,100,1000,10000,100000,1000000],"ticks":false,"labelExpr":"['10⁻⁷','10⁻⁶','10⁻⁵','10⁻⁴','10⁻³','0.01','0.1','1','10','10²','10³','10⁴','10⁵','10⁶'][round(log(datum.value)/LN10)+7]","title":"ρ (M☉ pc⁻³)","labelPadding":22,"titlePadding":50}},"color":{"field":"s","type":"nominal","scale":{"domain":["WD","AGB","MS","Total"],"range":["#a3c08a","#c8704f","#7474b8","#3e3e5e"]},"legend":{"title":null,"orient":"none","legendX":420,"legendY":694,"labelExpr":"datum.label == 'WD' ? '0.55 M☉ (WD)' : datum.label == 'AGB' ? '0.88 M☉ (AGB)' : datum.label == 'MS' ? '0.51 M☉ (MS)' : 'Total'"}}}},
{"data":{"name":"c"},"mark":{"type":"line","clip":true,"strokeWidth":2.2},"encoding":{"x":{"field":"R","type":"quantitative","scale":{"type":"log","domain":[4.47e-6,316],"nice":false},"axis":null},"y":{"field":"rho","type":"quantitative","scale":{"type":"log","domain":[1e-7,1e6],"nice":false},"axis":null},"color":{"field":"s","type":"nominal","scale":{"domain":["WD","AGB","MS","Total"],"range":["#a3c08a","#c8704f","#7474b8","#3e3e5e"]},"legend":{"title":null,"orient":"none","legendX":420,"legendY":694,"labelExpr":"datum.label == 'WD' ? '0.55 M☉ (WD)' : datum.label == 'AGB' ? '0.88 M☉ (AGB)' : datum.label == 'MS' ? '0.51 M☉ (MS)' : 'Total'"}}}},
{"data":{"name":"common"},"mark":{"type":"point","opacity":0,"clip":true},"encoding":{"x":{"field":"R","type":"quantitative","scale":{"type":"log","domain":[4.47e-6,316],"nice":false},"axis":{"orient":"bottom","values":[1e-5,1e-4,0.001,0.01,0.1,1,10,100],"labels":false,"tickSize":-26,"title":null}},"y":{"field":"rho","type":"quantitative","scale":{"type":"log","domain":[1e-7,1e6],"nice":false},"axis":{"orient":"left","values":[1e-7,1e-6,1e-5,1e-4,0.001,0.01,0.1,1,10,100,1000,10000,100000,1000000],"labels":false,"tickSize":-22,"title":null}}}},
{"data":{"name":"common"},"mark":{"type":"point","opacity":0,"clip":true},"encoding":{"x":{"field":"R","type":"quantitative","scale":{"type":"log","domain":[4.47e-6,316],"nice":false},"axis":{"orient":"bottom","values":[5e-6,6e-6,7e-6,8e-6,9e-6,2e-5,3e-5,4e-5,5e-5,6e-5,7e-5,8e-5,9e-5,2e-4,3e-4,4e-4,5e-4,6e-4,7e-4,8e-4,9e-4,0.002,0.003,0.004,0.005,0.006,0.007,0.008,0.009,0.02,0.03,0.04,0.05,0.06,0.07,0.08,0.09,0.2,0.3,0.4,0.5,0.6,0.7,0.8,0.9,2,3,4,5,6,7,8,9,20,30,40,50,60,70,80,90,200,300],"labels":false,"tickSize":-13,"title":null}},"y":{"field":"rho","type":"quantitative","scale":{"type":"log","domain":[1e-7,1e6],"nice":false},"axis":{"orient":"left","values":[2e-7,3e-7,4e-7,5e-7,6e-7,7e-7,8e-7,9e-7,2e-6,3e-6,4e-6,5e-6,6e-6,7e-6,8e-6,9e-6,2e-5,3e-5,4e-5,5e-5,6e-5,7e-5,8e-5,9e-5,2e-4,3e-4,4e-4,5e-4,6e-4,7e-4,8e-4,9e-4,0.002,0.003,0.004,0.005,0.006,0.007,0.008,0.009,0.02,0.03,0.04,0.05,0.06,0.07,0.08,0.09,0.2,0.3,0.4,0.5,0.6,0.7,0.8,0.9,2,3,4,5,6,7,8,9,20,30,40,50,60,70,80,90,200,300,400,500,600,700,800,900,2000,3000,4000,5000,6000,7000,8000,9000,20000,30000,40000,50000,60000,70000,80000,90000,200000,300000,400000,500000,600000,700000,800000,900000],"labels":false,"tickSize":-12,"title":null}}}},
{"data":{"name":"common"},"mark":{"type":"point","opacity":0,"clip":true},"encoding":{"x":{"field":"R","type":"quantitative","scale":{"type":"log","domain":[4.47e-6,316],"nice":false},"axis":{"orient":"top","values":[1e-5,1e-4,0.001,0.01,0.1,1,10,100],"labels":false,"tickSize":-26,"title":null}},"y":{"field":"rho","type":"quantitative","scale":{"type":"log","domain":[1e-7,1e6],"nice":false},"axis":{"orient":"right","values":[1e-7,1e-6,1e-5,1e-4,0.001,0.01,0.1,1,10,100,1000,10000,100000,1000000],"labels":false,"tickSize":-22,"title":null}}}},
{"data":{"name":"common"},"mark":{"type":"point","opacity":0,"clip":true},"encoding":{"x":{"field":"R","type":"quantitative","scale":{"type":"log","domain":[4.47e-6,316],"nice":false},"axis":{"orient":"top","values":[5e-6,6e-6,7e-6,8e-6,9e-6,2e-5,3e-5,4e-5,5e-5,6e-5,7e-5,8e-5,9e-5,2e-4,3e-4,4e-4,5e-4,6e-4,7e-4,8e-4,9e-4,0.002,0.003,0.004,0.005,0.006,0.007,0.008,0.009,0.02,0.03,0.04,0.05,0.06,0.07,0.08,0.09,0.2,0.3,0.4,0.5,0.6,0.7,0.8,0.9,2,3,4,5,6,7,8,9,20,30,40,50,60,70,80,90,200,300],"labels":false,"tickSize":-13,"title":null}},"y":{"field":"rho","type":"quantitative","scale":{"type":"log","domain":[1e-7,1e6],"nice":false},"axis":{"orient":"right","values":[2e-7,3e-7,4e-7,5e-7,6e-7,7e-7,8e-7,9e-7,2e-6,3e-6,4e-6,5e-6,6e-6,7e-6,8e-6,9e-6,2e-5,3e-5,4e-5,5e-5,6e-5,7e-5,8e-5,9e-5,2e-4,3e-4,4e-4,5e-4,6e-4,7e-4,8e-4,9e-4,0.002,0.003,0.004,0.005,0.006,0.007,0.008,0.009,0.02,0.03,0.04,0.05,0.06,0.07,0.08,0.09,0.2,0.3,0.4,0.5,0.6,0.7,0.8,0.9,2,3,4,5,6,7,8,9,20,30,40,50,60,70,80,90,200,300,400,500,600,700,800,900,2000,3000,4000,5000,6000,7000,8000,9000,20000,30000,40000,50000,60000,70000,80000,90000,200000,300000,400000,500000,600000,700000,800000,900000],"labels":false,"tickSize":-12,"title":null}}}},
{"data":{"values":[{"t":"Density Profile","R":0.0447,"rho":110000}]},"mark":{"type":"text","fontSize":38,"fontWeight":"bold","align":"center","baseline":"middle"},"encoding":{"x":{"field":"R","type":"quantitative","scale":{"type":"log","domain":[4.47e-6,316],"nice":false},"axis":null},"y":{"field":"rho","type":"quantitative","scale":{"type":"log","domain":[1e-7,1e6],"nice":false},"axis":null},"text":{"field":"t"}}},
{"data":{"values":[{"t":"No Loss Cone","R":0.05,"rho":17400}]},"mark":{"type":"text","fontSize":32,"fontWeight":"bold","align":"center","baseline":"middle"},"encoding":{"x":{"field":"R","type":"quantitative","scale":{"type":"log","domain":[4.47e-6,316],"nice":false},"axis":null},"y":{"field":"rho","type":"quantitative","scale":{"type":"log","domain":[1e-7,1e6],"nice":false},"axis":null},"text":{"field":"t"}}},
{"data":{"values":[{"t":"1.23E+10 yrs","R":165,"rho":2540}]},"mark":{"type":"text","fontSize":31,"fontWeight":"bold","align":"right","baseline":"middle"},"encoding":{"x":{"field":"R","type":"quantitative","scale":{"type":"log","domain":[4.47e-6,316],"nice":false},"axis":null},"y":{"field":"rho","type":"quantitative","scale":{"type":"log","domain":[1e-7,1e6],"nice":false},"axis":null},"text":{"field":"t"}}}
],
"resolve":{"axis":{"x":"independent","y":"independent"}}},
{"width":842,"height":855,"title":{"text":"d)"},
"layer":[
{"data":{"name":"common"},"mark":{"type":"line","clip":true,"strokeWidth":2.2},"encoding":{"x":{"field":"R","type":"quantitative","scale":{"type":"log","domain":[4.47e-6,316],"nice":false},"axis":{"orient":"bottom","values":[1e-5,1e-4,0.001,0.01,0.1,1,10,100],"ticks":false,"labelExpr":"['10⁻⁵','10⁻⁴','10⁻³','0.01','0.1','1','10','10²'][round(log(datum.value)/LN10)+5]","title":"R (pc)","labelFont":"Liberation Sans","labelFontSize":28,"labelPadding":16,"titleFont":"Liberation Sans","titleFontSize":46,"titlePadding":26}},"y":{"field":"rho","type":"quantitative","scale":{"type":"log","domain":[1e-7,1e6],"nice":false},"axis":{"orient":"left","values":[1e-7,1e-6,1e-5,1e-4,0.001,0.01,0.1,1,10,100,1000,10000,100000,1000000],"ticks":false,"labelExpr":"['10⁻⁷','10⁻⁶','10⁻⁵','10⁻⁴','10⁻³','0.01','0.1','1','10','10²','10³','10⁴','10⁵','10⁶'][round(log(datum.value)/LN10)+7]","title":"ρ (M☉ pc⁻³)","labelPadding":22,"titlePadding":50}},"color":{"field":"s","type":"nominal","scale":{"domain":["WD","AGB","MS","Total"],"range":["#a3c08a","#c8704f","#7474b8","#3e3e5e"]},"legend":{"title":null,"orient":"none","legendX":420,"legendY":694,"labelExpr":"datum.label == 'WD' ? '0.55 M☉ (WD)' : datum.label == 'AGB' ? '0.88 M☉ (AGB)' : datum.label == 'MS' ? '0.51 M☉ (MS)' : 'Total'"}}}},
{"data":{"name":"d"},"mark":{"type":"line","clip":true,"strokeWidth":2.2},"encoding":{"x":{"field":"R","type":"quantitative","scale":{"type":"log","domain":[4.47e-6,316],"nice":false},"axis":null},"y":{"field":"rho","type":"quantitative","scale":{"type":"log","domain":[1e-7,1e6],"nice":false},"axis":null},"color":{"field":"s","type":"nominal","scale":{"domain":["WD","AGB","MS","Total"],"range":["#a3c08a","#c8704f","#7474b8","#3e3e5e"]},"legend":{"title":null,"orient":"none","legendX":420,"legendY":694,"labelExpr":"datum.label == 'WD' ? '0.55 M☉ (WD)' : datum.label == 'AGB' ? '0.88 M☉ (AGB)' : datum.label == 'MS' ? '0.51 M☉ (MS)' : 'Total'"}}}},
{"data":{"name":"common"},"mark":{"type":"point","opacity":0,"clip":true},"encoding":{"x":{"field":"R","type":"quantitative","scale":{"type":"log","domain":[4.47e-6,316],"nice":false},"axis":{"orient":"bottom","values":[1e-5,1e-4,0.001,0.01,0.1,1,10,100],"labels":false,"tickSize":-26,"title":null}},"y":{"field":"rho","type":"quantitative","scale":{"type":"log","domain":[1e-7,1e6],"nice":false},"axis":{"orient":"left","values":[1e-7,1e-6,1e-5,1e-4,0.001,0.01,0.1,1,10,100,1000,10000,100000,1000000],"labels":false,"tickSize":-22,"title":null}}}},
{"data":{"name":"common"},"mark":{"type":"point","opacity":0,"clip":true},"encoding":{"x":{"field":"R","type":"quantitative","scale":{"type":"log","domain":[4.47e-6,316],"nice":false},"axis":{"orient":"bottom","values":[5e-6,6e-6,7e-6,8e-6,9e-6,2e-5,3e-5,4e-5,5e-5,6e-5,7e-5,8e-5,9e-5,2e-4,3e-4,4e-4,5e-4,6e-4,7e-4,8e-4,9e-4,0.002,0.003,0.004,0.005,0.006,0.007,0.008,0.009,0.02,0.03,0.04,0.05,0.06,0.07,0.08,0.09,0.2,0.3,0.4,0.5,0.6,0.7,0.8,0.9,2,3,4,5,6,7,8,9,20,30,40,50,60,70,80,90,200,300],"labels":false,"tickSize":-13,"title":null}},"y":{"field":"rho","type":"quantitative","scale":{"type":"log","domain":[1e-7,1e6],"nice":false},"axis":{"orient":"left","values":[2e-7,3e-7,4e-7,5e-7,6e-7,7e-7,8e-7,9e-7,2e-6,3e-6,4e-6,5e-6,6e-6,7e-6,8e-6,9e-6,2e-5,3e-5,4e-5,5e-5,6e-5,7e-5,8e-5,9e-5,2e-4,3e-4,4e-4,5e-4,6e-4,7e-4,8e-4,9e-4,0.002,0.003,0.004,0.005,0.006,0.007,0.008,0.009,0.02,0.03,0.04,0.05,0.06,0.07,0.08,0.09,0.2,0.3,0.4,0.5,0.6,0.7,0.8,0.9,2,3,4,5,6,7,8,9,20,30,40,50,60,70,80,90,200,300,400,500,600,700,800,900,2000,3000,4000,5000,6000,7000,8000,9000,20000,30000,40000,50000,60000,70000,80000,90000,200000,300000,400000,500000,600000,700000,800000,900000],"labels":false,"tickSize":-12,"title":null}}}},
{"data":{"name":"common"},"mark":{"type":"point","opacity":0,"clip":true},"encoding":{"x":{"field":"R","type":"quantitative","scale":{"type":"log","domain":[4.47e-6,316],"nice":false},"axis":{"orient":"top","values":[1e-5,1e-4,0.001,0.01,0.1,1,10,100],"labels":false,"tickSize":-26,"title":null}},"y":{"field":"rho","type":"quantitative","scale":{"type":"log","domain":[1e-7,1e6],"nice":false},"axis":{"orient":"right","values":[1e-7,1e-6,1e-5,1e-4,0.001,0.01,0.1,1,10,100,1000,10000,100000,1000000],"labels":false,"tickSize":-22,"title":null}}}},
{"data":{"name":"common"},"mark":{"type":"point","opacity":0,"clip":true},"encoding":{"x":{"field":"R","type":"quantitative","scale":{"type":"log","domain":[4.47e-6,316],"nice":false},"axis":{"orient":"top","values":[5e-6,6e-6,7e-6,8e-6,9e-6,2e-5,3e-5,4e-5,5e-5,6e-5,7e-5,8e-5,9e-5,2e-4,3e-4,4e-4,5e-4,6e-4,7e-4,8e-4,9e-4,0.002,0.003,0.004,0.005,0.006,0.007,0.008,0.009,0.02,0.03,0.04,0.05,0.06,0.07,0.08,0.09,0.2,0.3,0.4,0.5,0.6,0.7,0.8,0.9,2,3,4,5,6,7,8,9,20,30,40,50,60,70,80,90,200,300],"labels":false,"tickSize":-13,"title":null}},"y":{"field":"rho","type":"quantitative","scale":{"type":"log","domain":[1e-7,1e6],"nice":false},"axis":{"orient":"right","values":[2e-7,3e-7,4e-7,5e-7,6e-7,7e-7,8e-7,9e-7,2e-6,3e-6,4e-6,5e-6,6e-6,7e-6,8e-6,9e-6,2e-5,3e-5,4e-5,5e-5,6e-5,7e-5,8e-5,9e-5,2e-4,3e-4,4e-4,5e-4,6e-4,7e-4,8e-4,9e-4,0.002,0.003,0.004,0.005,0.006,0.007,0.008,0.009,0.02,0.03,0.04,0.05,0.06,0.07,0.08,0.09,0.2,0.3,0.4,0.5,0.6,0.7,0.8,0.9,2,3,4,5,6,7,8,9,20,30,40,50,60,70,80,90,200,300,400,500,600,700,800,900,2000,3000,4000,5000,6000,7000,8000,9000,20000,30000,40000,50000,60000,70000,80000,90000,200000,300000,400000,500000,600000,700000,800000,900000],"labels":false,"tickSize":-12,"title":null}}}},
{"data":{"values":[{"t":"Density Profile","R":0.0447,"rho":110000}]},"mark":{"type":"text","fontSize":38,"fontWeight":"bold","align":"center","baseline":"middle"},"encoding":{"x":{"field":"R","type":"quantitative","scale":{"type":"log","domain":[4.47e-6,316],"nice":false},"axis":null},"y":{"field":"rho","type":"quantitative","scale":{"type":"log","domain":[1e-7,1e6],"nice":false},"axis":null},"text":{"field":"t"}}},
{"data":{"values":[{"t":"No Loss Cone or Coll.","R":0.05,"rho":17400}]},"mark":{"type":"text","fontSize":32,"fontWeight":"bold","align":"center","baseline":"middle"},"encoding":{"x":{"field":"R","type":"quantitative","scale":{"type":"log","domain":[4.47e-6,316],"nice":false},"axis":null},"y":{"field":"rho","type":"quantitative","scale":{"type":"log","domain":[1e-7,1e6],"nice":false},"axis":null},"text":{"field":"t"}}},
{"data":{"values":[{"t":"1.23E+10 yrs","R":165,"rho":2540}]},"mark":{"type":"text","fontSize":31,"fontWeight":"bold","align":"right","baseline":"middle"},"encoding":{"x":{"field":"R","type":"quantitative","scale":{"type":"log","domain":[4.47e-6,316],"nice":false},"axis":null},"y":{"field":"rho","type":"quantitative","scale":{"type":"log","domain":[1e-7,1e6],"nice":false},"axis":null},"text":{"field":"t"}}}
],
"resolve":{"axis":{"x":"independent","y":"independent"}}}
],
"config":{
"view":{"stroke":"#3d3438","strokeWidth":3},
"axis":{"grid":false,"domain":false,"tickColor":"#3d3438","tickWidth":2,"labelFont":"DejaVu Serif","labelFontSize":31,"labelColor":"#353035","titleFont":"DejaVu Serif","titleFontSize":38,"titleFontWeight":"normal","titleColor":"#353035","labelOverlap":false,"labelFlush":false},
"legend":{"symbolType":"stroke","symbolSize":900,"symbolStrokeWidth":2.2,"labelFont":"DejaVu Serif","labelFontSize":27,"labelColor":"#353035","rowPadding":3,"labelOffset":8,"labelLimit":400},
"text":{"font":"DejaVu Serif","color":"#353035"},
"title":{"orient":"bottom","anchor":"middle","font":"DejaVu Sans","fontSize":19,"fontWeight":"bold","color":"#353035","offset":24}
}
}
